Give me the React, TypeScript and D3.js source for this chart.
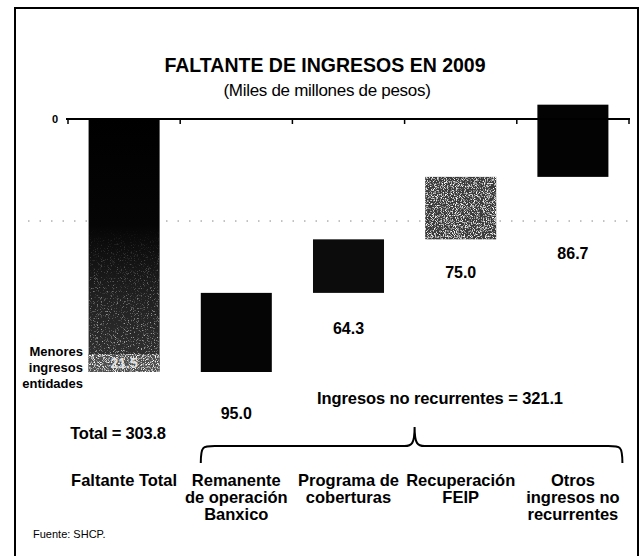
import React from "react";
import * as d3 from "d3";

const categories = [
  ["Faltante Total"],
  ["Remanente", "de operación", "Banxico"],
  ["Programa de", "coberturas"],
  ["Recuperación", "FEIP"],
  ["Otros", "ingresos no", "recurrentes"],
];
const keys = ["faltante", "remanente", "programa", "recuperacion", "otros"];
const values = [-303.8, 95.0, 64.3, 75.0, 86.7];
const valueLabels = ["", "95.0", "64.3", "75.0", "86.7"];
const menoresValue = 21.5;
const menoresLabel = "21.5";
const totalLabel = "Total = 303.8";
const noRecurrentesLabel = "Ingresos no recurrentes = 321.1";
const gridValue = -122.5;
const zeroTick = "0";

// layout constants
const labelGap = [0, 41, 35, 33, 76];
const W = 644;
const H = 556;

export default function App() {
  const bars: { key: string; start: number; end: number }[] = [];
  let cum = 0;
  values.forEach((v, i) => {
    const s = cum;
    cum += v;
    bars.push({ key: keys[i], start: s, end: cum });
  });

  const y = d3.scaleLinear().domain([-303.8, 0]).range([372, 119]);
  const x = d3
    .scaleBand<string>()
    .domain(keys)
    .range([68, 629])
    .paddingInner(0.367)
    .paddingOuter(0.367 / 2);
  const bw = x.bandwidth();
  const step = x.step();
  const tickXs = d3.range(keys.length + 1).map((i) => 68 + i * step);

  const fill = ["url(#faltGrad)", "#050505", "#0c0c0c", "#3a3a3a", "#030303"];

  const bl = x("remanente")!;
  const br = x("otros")! + bw + 14;
  const bmid = (bl + br) / 2 + 3;
  const by = 446;
  const braceTop = 427;
  const braceBot = 463;
  const bracePath = `M${bl},${braceBot} C${bl},${by} ${bl + 2},${by} ${bl + 14},${by} L${bmid - 10},${by} C${bmid - 3},${by} ${bmid},${by - 2} ${bmid},${braceTop} C${bmid},${by - 2} ${bmid + 3},${by} ${bmid + 10},${by} L${br - 14},${by} C${br - 2},${by} ${br},${by} ${br},${braceBot}`;

  const font = "'Liberation Sans', Arial, Helvetica, sans-serif";

  const menTop = y(-303.8 + menoresValue);
  const menBot = y(-303.8);
  const fx = x("faltante")!;

  return (
    <svg
      width={W}
      height={H}
      style={{ position: "absolute", left: 0, top: 0, background: "#fff" }}
      fontFamily={font}
    >
      <defs>
        <linearGradient id="faltGrad" x1="0" y1="0" x2="0" y2="1">
          <stop offset="0" stopColor="#000" />
          <stop offset="0.42" stopColor="#050505" />
          <stop offset="0.7" stopColor="#202020" />
          <stop offset="1" stopColor="#333" />
        </linearGradient>
        <linearGradient id="fadeIn" x1="0" y1="0" x2="0" y2="1">
          <stop offset="0" stopColor="#fff" stopOpacity="0" />
          <stop offset="1" stopColor="#fff" stopOpacity="1" />
        </linearGradient>
        <filter id="speckle" x="0" y="0" width="100%" height="100%">
          <feTurbulence type="fractalNoise" baseFrequency="1.1" numOctaves="2" seed="4" result="noise" />
          <feColorMatrix
            in="noise"
            type="matrix"
            values="0 0 0 0 0  0 0 0 0 0  0 0 0 0 0  4 0 0 0 -2.0"
            result="spots"
          />
          <feFlood floodColor="#ffffff" result="white" />
          <feComposite in="white" in2="spots" operator="in" result="whiteSpots" />
          <feComposite in="whiteSpots" in2="SourceGraphic" operator="in" result="clipped" />
          <feMerge>
            <feMergeNode in="SourceGraphic" />
            <feMergeNode in="clipped" />
          </feMerge>
        </filter>
        <filter id="speckleLight" x="0" y="0" width="100%" height="100%">
          <feTurbulence type="fractalNoise" baseFrequency="1.3" numOctaves="2" seed="9" result="noise" />
          <feColorMatrix
            in="noise"
            type="matrix"
            values="0 0 0 0 0.55  0 0 0 0 0.55  0 0 0 0 0.55  5 0 0 0 -2.9"
            result="spots"
          />
          <feComposite in="spots" in2="SourceGraphic" operator="in" />
        </filter>
      </defs>

      {/* frame */}
      <path d={`M15,560 L15,8 L638,8 L638,560`} fill="none" stroke="#000" strokeWidth={2} />

      {/* title */}
      <text x={325} y={72} textAnchor="middle" fontSize={19.5} fontWeight="bold">
        FALTANTE DE INGRESOS EN 2009
      </text>
      <text x={327} y={96} textAnchor="middle" fontSize={17} letterSpacing={-0.3}>
        (Miles de millones de pesos)
      </text>

      {/* faint dotted grid */}
      <line
        x1={28}
        x2={630}
        y1={y(gridValue)}
        y2={y(gridValue)}
        stroke="#888"
        strokeWidth={1}
        strokeDasharray="1.5 10"
      />

      {/* bars */}
      {bars.map((b, i) => {
        const top = y(Math.max(b.start, b.end));
        const bot = y(Math.min(b.start, b.end));
        return (
          <rect
            key={b.key}
            x={x(b.key)}
            y={top}
            width={bw}
            height={bot - top}
            fill={fill[i]}
            filter={b.key === "recuperacion" ? "url(#speckle)" : undefined}
          />
        );
      })}
      {/* speckled lower part of faltante */}
      <rect
        x={fx}
        y={y(-130)}
        width={bw}
        height={menTop - y(-130)}
        fill="url(#fadeIn)"
        filter="url(#speckleLight)"
      />
      {/* menores ingresos segment */}
      <rect x={fx} y={menTop} width={bw} height={menBot - menTop} fill="#505050" filter="url(#speckle)" />
      <text
        x={fx + bw / 2}
        y={(menTop + menBot) / 2 + 5}
        textAnchor="middle"
        fontSize={14}
        fontWeight="bold"
        fill="#e0e0e0"
      >
        {menoresLabel}
      </text>

      {/* zero axis */}
      <line x1={66} x2={630} y1={y(0)} y2={y(0)} stroke="#000" strokeWidth={2} />
      {tickXs.map((tx, i) => (
        <line key={i} x1={tx} x2={tx} y1={y(0)} y2={y(0) + 5} stroke="#000" strokeWidth={1.5} />
      ))}
      <text x={55} y={y(0) + 4} textAnchor="middle" fontSize={11} fontWeight="bold">
        {zeroTick}
      </text>

      {/* value labels */}
      {bars.map((b, i) =>
        valueLabels[i] ? (
          <text
            key={b.key}
            x={x(b.key)! + bw / 2}
            y={y(Math.min(b.start, b.end)) + labelGap[i] + 6}
            textAnchor="middle"
            fontSize={16}
            fontWeight="bold"
          >
            {valueLabels[i]}
          </text>
        ) : null
      )}

      {/* menores label */}
      {["Menores", "ingresos", "entidades"].map((t, i) => (
        <text key={t} x={83} y={356 + i * 16} textAnchor="end" fontSize={13} fontWeight="bold">
          {t}
        </text>
      ))}

      <text x={118} y={439} textAnchor="middle" fontSize={16.5} fontWeight="bold" letterSpacing={-0.2}>
        {totalLabel}
      </text>
      <text x={440} y={404} textAnchor="middle" fontSize={16.5} fontWeight="bold" letterSpacing={-0.1}>
        {noRecurrentesLabel}
      </text>

      {/* brace */}
      <path d={bracePath} fill="none" stroke="#000" strokeWidth={2} />

      {/* category labels */}
      {categories.map((lines, i) =>
        lines.map((t, j) => (
          <text
            key={i + "-" + j}
            x={x(keys[i])! + bw / 2}
            y={486 + j * 17}
            textAnchor="middle"
            fontSize={16.5}
            fontWeight="bold"
          >
            {t}
          </text>
        ))
      )}

      <text x={33} y={538} fontSize={11}>
        Fuente: SHCP.
      </text>
    </svg>
  );
}
